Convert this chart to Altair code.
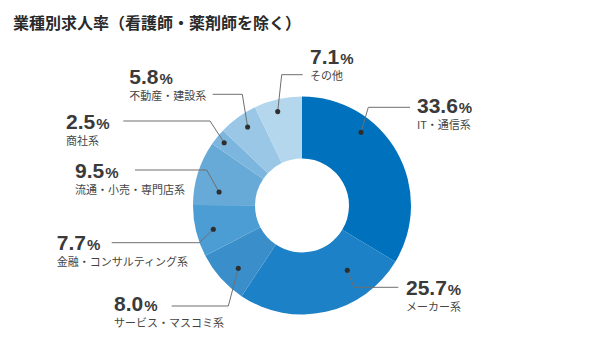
import math
import altair as alt
import pandas as pd

# ---- data ----
categories = ["IT・通信系", "メーカー系", "サービス・マスコミ系", "金融・コンサルティング系",
              "流通・小売・専門店系", "商社系", "不動産・建設系", "その他"]
values = [33.6, 25.7, 8.0, 7.7, 9.5, 2.5, 5.8, 7.1]
colors = ["#0071BC", "#1C81C6", "#3A8FCB", "#4C9DD3", "#67AAD8", "#7CB6DF", "#9AC7E6", "#B5D7EE"]
title_text = "業種別求人率（看護師・薬剤師を除く）"

# ---- layout (annotation placement) ----
CX, CY, R_OUT, R_IN = 302, 205.5, 109, 47
dot_angle = [38.9, 145.0, 225.4, 255.0, 279.2, 308.9, 325.3, 345.5]
dot_radius = [94, 79, 89.5, 91.8, 84, 100, 95.5, 97]
elbow = [(368.3, 107.3), (354, 287.3), (228.3, 306), (199.3, 242.7),
         (206.7, 170), (210, 121), (242.3, 94.3), (281.7, 74.7)]
line_end_x = [410, 398.3, 171.7, 111.7, 135, 123.3, 212.7, 302.7]
label_xy = [(417, 113.3), (406, 295), (114, 311), (56.7, 250),
            (75, 178.3), (66, 129), (129.3, 84.3), (310, 64)]
NUM_SIZE, PCT_SIZE, CAT_SIZE = 21, 15, 11

pie_df = pd.DataFrame({"cat": categories, "value": values, "idx": list(range(len(values)))})

dots, lines, nums, pcts, cats = [], [], [], [], []
for i, c in enumerate(categories):
    a = math.radians(dot_angle[i])
    dx = CX + dot_radius[i] * math.sin(a)
    dy = CY - dot_radius[i] * math.cos(a)
    dots.append({"cat": c, "x": dx, "y": dy})
    ex, ey = elbow[i]
    lines += [{"cat": c, "o": 0, "x": dx, "y": dy},
              {"cat": c, "o": 1, "x": ex, "y": ey},
              {"cat": c, "o": 2, "x": line_end_x[i], "y": ey}]
    s = f"{values[i]:.1f}"
    lx, ly = label_xy[i]
    w = sum(0.278 if ch == "." else 0.556 for ch in s) * NUM_SIZE
    nums.append({"t": s, "x": lx, "y": ly})
    pcts.append({"t": "%", "x": lx + w + 1, "y": ly})
    cats.append({"t": c, "x": lx, "y": ly + 15.5})

pie = alt.Chart(pie_df).mark_arc(outerRadius=R_OUT, innerRadius=R_IN).encode(
    theta=alt.Theta("value:Q", stack=True),
    order=alt.Order("idx:Q"),
    color=alt.Color("cat:N", scale=alt.Scale(domain=categories, range=colors), legend=None),
    x=alt.value(CX), y=alt.value(CY),
)

line_layer = alt.Chart(pd.DataFrame(lines)).mark_line(color="#6f6f6f", strokeWidth=1).encode(
    x=alt.X("x:Q", scale=None), y=alt.Y("y:Q", scale=None),
    detail="cat:N", order="o:Q")
dot_layer = alt.Chart(pd.DataFrame(dots)).mark_circle(color="#2e2e2e", opacity=1, size=26).encode(
    x=alt.X("x:Q", scale=None), y=alt.Y("y:Q", scale=None))
num_layer = alt.Chart(pd.DataFrame(nums)).mark_text(
    align="left", baseline="alphabetic", font="Liberation Sans", fontWeight="bold",
    fontSize=NUM_SIZE, color="#3a3a3a").encode(
    x=alt.X("x:Q", scale=None), y=alt.Y("y:Q", scale=None), text="t:N")
pct_layer = alt.Chart(pd.DataFrame(pcts)).mark_text(
    align="left", baseline="alphabetic", font="Liberation Sans", fontWeight="bold",
    fontSize=PCT_SIZE, color="#3a3a3a").encode(
    x=alt.X("x:Q", scale=None), y=alt.Y("y:Q", scale=None), text="t:N")
cat_layer = alt.Chart(pd.DataFrame(cats)).mark_text(
    align="left", baseline="alphabetic", font="Noto Sans CJK JP",
    fontSize=CAT_SIZE, color="#444444").encode(
    x=alt.X("x:Q", scale=None), y=alt.Y("y:Q", scale=None), text="t:N")
title_layer = alt.Chart(pd.DataFrame([{"t": title_text}])).mark_text(
    align="left", baseline="alphabetic", font="Noto Sans CJK JP", fontWeight="bold",
    fontSize=16, color="#2a2a2a").encode(
    x=alt.value(13), y=alt.value(28.5), text="t:N")

chart = alt.layer(pie, line_layer, dot_layer, num_layer, pct_layer, cat_layer, title_layer).properties(
    width=600, height=342, padding=0, autosize=alt.AutoSizeParams(type="none"),
    background="white"
).configure_view(stroke=None)

chart.save("out.html", embed_options={"renderer": "svg", "actions": False})
